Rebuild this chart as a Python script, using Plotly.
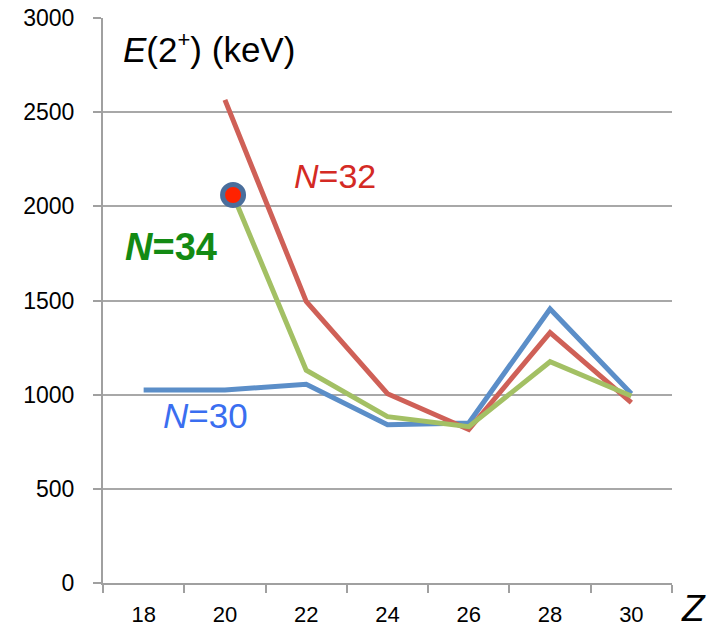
import plotly.graph_objects as go

# Data
z_n30 = [18, 20, 22, 24, 26, 28, 30]
e_n30 = [1025, 1025, 1055, 840, 850, 1455, 1005]

z_n32 = [20, 22, 24, 26, 28, 30]
e_n32 = [2565, 1495, 1005, 815, 1330, 958]

z_n34 = [20.2, 22, 24, 26, 28, 30]
e_n34 = [2060, 1130, 883, 830, 1175, 993]

marker_z = [20.2]
marker_e = [2060]

tick_vals = [18, 20, 22, 24, 26, 28, 30]
tick_text = ["18", "20", "22", "24", "26", "28", "30"]

FONT = "Liberation Sans, Arial, Helvetica, sans-serif"

fig = go.Figure()
fig.add_trace(go.Scatter(x=z_n30, y=e_n30, mode="lines",
                         line=dict(color="#5b8ec8", width=5), showlegend=False))
fig.add_trace(go.Scatter(x=z_n32, y=e_n32, mode="lines",
                         line=dict(color="#cf6057", width=5), showlegend=False))
fig.add_trace(go.Scatter(x=z_n34, y=e_n34, mode="lines",
                         line=dict(color="#a3c064", width=5), showlegend=False))
fig.add_trace(go.Scatter(x=marker_z, y=marker_e, mode="markers",
                         marker=dict(size=21, color="#ff2200",
                                     line=dict(color="#4a6e9c", width=5)),
                         showlegend=False))

fig.update_layout(
    width=711, height=629,
    margin=dict(l=103, r=39, t=18, b=46),
    paper_bgcolor="white", plot_bgcolor="white",
    font=dict(family=FONT, color="black"),
    xaxis=dict(range=[17, 31], tickvals=tick_vals, ticktext=tick_text,
               ticks="", showgrid=False, zeroline=False, automargin=False,
               showline=True, linecolor="#a0a0a0", linewidth=2,
               tickfont=dict(size=22, color="black"), ticklabelstandoff=11,
               minor=dict(tick0=17, dtick=2, ticks="outside", ticklen=8,
                          tickcolor="#a0a0a0", tickwidth=2, showgrid=False)),
    yaxis=dict(range=[0, 3000], tickvals=[0, 500, 1000, 1500, 2000, 2500, 3000],
               ticks="outside", ticklen=8, tickcolor="#a0a0a0", tickwidth=2,
               showgrid=True, gridcolor="#a8a8a8", gridwidth=2, automargin=False,
               zeroline=False, showline=True, linecolor="#a0a0a0", linewidth=2,
               tickfont=dict(size=23, color="black"), ticklabelstandoff=14),
)

fig.add_annotation(x=17.45, y=2840, xref="x", yref="y", xanchor="left", yanchor="middle",
                   text="<i>E</i>(2<sup><span style='font-size:22px'>+</span></sup>) (keV)",
                   showarrow=False,
                   font=dict(size=35, color="black", family=FONT))
fig.add_annotation(x=17.48, y=1784, xref="x", yref="y", xanchor="left", yanchor="middle",
                   text="<b><i>N</i>=34</b>", showarrow=False,
                   font=dict(size=38, color="#138a13", family=FONT))
fig.add_annotation(x=21.66, y=2161, xref="x", yref="y", xanchor="left", yanchor="middle",
                   text="<i>N</i>=32", showarrow=False,
                   font=dict(size=34, color="#d42a24", family=FONT))
fig.add_annotation(x=18.43, y=892, xref="x", yref="y", xanchor="left", yanchor="middle",
                   text="<i>N</i>=30", showarrow=False,
                   font=dict(size=35, color="#3a6ef0", family=FONT))
fig.add_annotation(x=1.012, y=-0.045, xref="paper", yref="paper", xanchor="left", yanchor="middle",
                   text="<i>Z</i>", showarrow=False,
                   font=dict(size=37, color="black", family=FONT))

fig.write_html("out.html")
